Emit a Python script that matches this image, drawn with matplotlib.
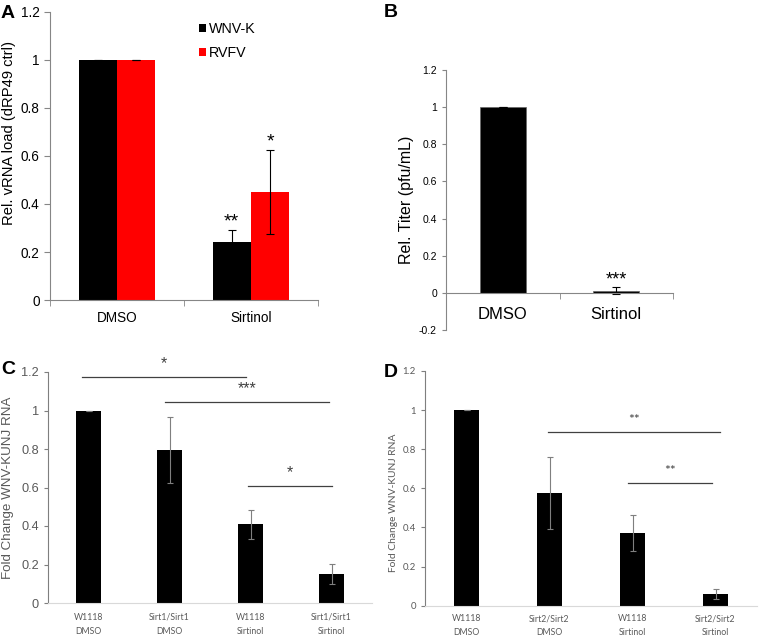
import matplotlib
matplotlib.use('Agg')
import matplotlib.pyplot as plt
import numpy as np

plt.rcParams['font.family'] = ['Liberation Sans', 'DejaVu Sans']

# panel A: relative vRNA load
a_groups = ['DMSO', 'Sirtinol']
a_wnv = [1.0, 0.243]
a_wnv_err = [0.0, 0.048]
a_rvfv = [1.0, 0.449]
a_rvfv_err = [0.0, 0.174]
a_wnv_stars = ['', '**']
a_rvfv_stars = ['', '*']

# panel B: relative titer
b_groups = ['DMSO', 'Sirtinol']
b_titer = [1.0, 0.012]
b_titer_err = [0.0, 0.017]
b_stars = ['', '***']

# panel C: Sirt1
c_groups = ['W1118\nDMSO', 'Sirt1/Sirt1\nDMSO', 'W1118\nSirtinol', 'Sirt1/Sirt1\nSirtinol']
c_fold = [1.0, 0.795, 0.408, 0.150]
c_fold_err = [0.0, 0.173, 0.073, 0.053]
# (x start, x end, height, label)
c_sig = [(-0.08, 1.94, 1.172, '*'), (0.94, 2.97, 1.046, '***'), (1.97, 3.01, 0.609, '*')]

# panel D: Sirt2
d_groups = ['W1118\nDMSO', 'Sirt2/Sirt2\nDMSO', 'W1118\nSirtinol', 'Sirt2/Sirt2\nSirtinol']
d_fold = [1.0, 0.575, 0.372, 0.058]
d_fold_err = [0.0, 0.183, 0.093, 0.025]
d_sig = [(0.98, 3.05, 0.89, '**'), (1.95, 2.96, 0.626, '**')]

W, H = 760, 637
fig = plt.figure(figsize=(W / 100, H / 100), dpi=100)


def box(l, r, t, b):
    return [l / W, 1 - b / H, (r - l) / W, (b - t) / H]


spine_grey = '#868686'
calibri_like = ['Lato', 'DejaVu Sans']

# ---------------- A ----------------
ax = fig.add_axes(box(50, 318, 12, 300))
x = np.arange(len(a_groups))
bw = 0.287
ax.bar(x - bw / 2, a_wnv, bw, color='black', label='WNV-K')
ax.bar(x + bw / 2, a_rvfv, bw, color='#ff0000', label='RVFV')
ax.errorbar(x - bw / 2, a_wnv, yerr=a_wnv_err, fmt='none', ecolor='black', elinewidth=0.8, capsize=3, capthick=0.8)
ax.errorbar(x + bw / 2, a_rvfv, yerr=a_rvfv_err, fmt='none', ecolor='black', elinewidth=0.8, capsize=3, capthick=0.8)
for xi, v, e, s in zip(x - bw / 2, a_wnv, a_wnv_err, a_wnv_stars):
    ax.annotate(s, (xi, v + e), xytext=(0, 0), textcoords='offset points', ha='center', va='bottom', fontsize=14)
for xi, v, e, s in zip(x + bw / 2, a_rvfv, a_rvfv_err, a_rvfv_stars):
    ax.annotate(s, (xi, v + e), xytext=(0, 0), textcoords='offset points', ha='center', va='bottom', fontsize=14)
ax.set_xlim(-0.5, 1.5)
ax.set_ylim(0, 1.2)
ax.set_yticks(np.arange(0, 1.21, 0.2))
ax.set_yticklabels(['0', '0.2', '0.4', '0.6', '0.8', '1', '1.2'])
ax.set_xticks(x)
ax.set_xticklabels(a_groups)
ax.set_xticks([-0.5, 0.5, 1.5], minor=True)
ax.tick_params(axis='x', which='major', length=0, pad=8, labelsize=9.8)
ax.tick_params(axis='x', which='minor', length=4, color=spine_grey)
ax.tick_params(axis='y', length=4, color=spine_grey, labelsize=9.8)
for s in ['top', 'right']:
    ax.spines[s].set_visible(False)
for s in ['left', 'bottom']:
    ax.spines[s].set_color(spine_grey)
ax.set_ylabel('Rel. vRNA load (dRP49 ctrl)', fontsize=10.6)
ax.yaxis.set_label_coords(-0.125, 0.58)
ax.legend(loc='upper left', bbox_to_anchor=(0.53, 0.99), frameon=False, fontsize=10.3,
          handlelength=0.45, handleheight=0.45, handletextpad=0.25, labelspacing=0.7, borderpad=0)

# ---------------- B ----------------
ax = fig.add_axes(box(446, 673, 70, 330))
x = np.arange(len(b_groups))
ax.bar(x, b_titer, 0.405, color='black', edgecolor='#666666', linewidth=0.5)
ax.errorbar(x, b_titer, yerr=b_titer_err, fmt='none', ecolor='black', elinewidth=0.8, capsize=3, capthick=0.8)
for xi, v, e, s in zip(x, b_titer, b_titer_err, b_stars):
    ax.annotate(s, (xi, v + e), xytext=(0, -1), textcoords='offset points', ha='center', va='bottom', fontsize=13)
ax.set_xlim(-0.5, 1.5)
ax.set_ylim(-0.2, 1.2)
ax.set_yticks(np.arange(-0.2, 1.21, 0.2))
ax.set_yticklabels(['-0.2', '0', '0.2', '0.4', '0.6', '0.8', '1', '1.2'])
ax.spines['bottom'].set_position(('data', 0))
ax.set_xticks(x)
ax.set_xticklabels(b_groups)
ax.set_xticks([-0.5, 0.5, 1.5], minor=True)
ax.tick_params(axis='x', which='major', length=0, pad=10, labelsize=12)
ax.tick_params(axis='x', which='minor', length=4, color=spine_grey)
ax.tick_params(axis='y', length=3, color=spine_grey, labelsize=7.5)
for s in ['top', 'right']:
    ax.spines[s].set_visible(False)
for s in ['left', 'bottom']:
    ax.spines[s].set_color(spine_grey)
ax.set_ylabel('Rel. Titer (pfu/mL)', fontsize=11.5)
ax.yaxis.set_label_coords(-0.14, 0.5)


# ---------------- C and D ----------------
def fold_panel(rect, groups, vals, errs, sig, tick_font, tick_fs, ylab_fs, sig_fs, label_x, label_y, xpad):
    ax = fig.add_axes(rect)
    x = np.arange(len(groups))
    ax.bar(x, vals, 0.31, color='black')
    ax.errorbar(x, vals, yerr=errs, fmt='none', ecolor='#7f7f7f', elinewidth=0.8, capsize=2.5, capthick=0.8)
    for x0, x1, h, s in sig:
        ax.plot([x0, x1], [h, h], color='#404040', lw=0.9, clip_on=False)
        ax.text((x0 + x1) / 2, h + 0.03, s, ha='center', va='bottom', fontsize=sig_fs, color='#404040',
                family=tick_font)
    ax.set_xlim(-0.5, len(groups) - 0.5)
    ax.set_ylim(0, 1.2)
    ax.set_yticks(np.arange(0, 1.21, 0.2))
    ax.set_yticklabels(['0', '0.2', '0.4', '0.6', '0.8', '1', '1.2'], family=tick_font)
    ax.set_xticks(x)
    ax.set_xticklabels(groups, family=calibri_like, fontsize=6.3, color='#595959', linespacing=1.7)
    ax.tick_params(axis='x', length=0, pad=xpad)
    ax.tick_params(axis='y', length=3, color='#7f7f7f', labelsize=tick_fs, labelcolor='#595959')
    for s in ['top', 'right']:
        ax.spines[s].set_visible(False)
    ax.spines['left'].set_color('#7f7f7f')
    ax.spines['bottom'].set_color('#d9d9d9')
    ax.set_ylabel('Fold Change WNV-KUNJ RNA', fontsize=ylab_fs, color='#595959', family=tick_font)
    ax.yaxis.set_label_coords(label_x, label_y)
    return ax


fold_panel(box(48, 372, 372, 603), c_groups, c_fold, c_fold_err, c_sig,
           ['Liberation Sans', 'DejaVu Sans'], 9.2, 9.6, 11.5, -0.105, 0.5, 7)
fold_panel(box(425, 757, 371, 605.7), d_groups, d_fold, d_fold_err, d_sig,
           calibri_like, 6.9, 7.4, 10, -0.081, 0.44, 6)

# panel letters
for lab, px, py in [('A', 8, 14), ('B', 391, 12.5), ('C', 8, 369), ('D', 391, 372)]:
    fig.text(px / W, 1 - py / H, lab, ha='center', va='center', fontsize=14, fontweight='bold')

fig.savefig('out.png', dpi=100)
